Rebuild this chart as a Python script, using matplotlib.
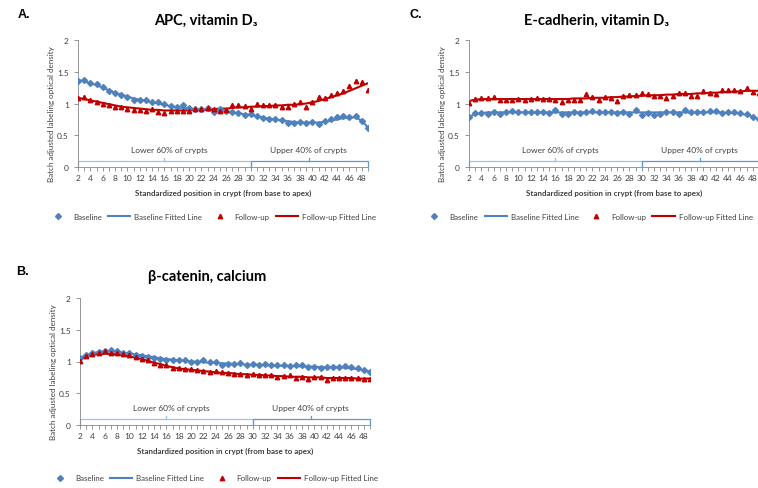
import matplotlib
matplotlib.use("Agg")
import matplotlib.pyplot as plt
from matplotlib.lines import Line2D

plt.rcParams["font.family"] = ["Lato", "DejaVu Sans"]

positions = list(range(2, 50))
tick_labels = [str(p) if p % 2 == 0 else "" for p in positions]

# A. APC, vitamin D3
apc_base = [1.36, 1.37, 1.33, 1.31, 1.26, 1.20, 1.16, 1.13, 1.10, 1.06, 1.05, 1.06,
            1.03, 1.02, 0.99, 0.96, 0.95, 0.97, 0.93, 0.92, 0.91, 0.93, 0.86, 0.92,
            0.88, 0.87, 0.85, 0.82, 0.83, 0.81, 0.77, 0.75, 0.76, 0.74, 0.70, 0.70,
            0.71, 0.70, 0.71, 0.68, 0.72, 0.75, 0.78, 0.80, 0.79, 0.81, 0.73, 0.61]
apc_base_fit = [1.37, 1.35, 1.32, 1.29, 1.25, 1.21, 1.17, 1.14, 1.11, 1.08, 1.06, 1.04,
                1.02, 1.00, 0.98, 0.96, 0.94, 0.93, 0.92, 0.91, 0.90, 0.89, 0.89, 0.88,
                0.87, 0.86, 0.85, 0.83, 0.82, 0.80, 0.78, 0.76, 0.75, 0.73, 0.72, 0.71,
                0.70, 0.70, 0.70, 0.70, 0.71, 0.73, 0.75, 0.77, 0.78, 0.78, 0.73, 0.62]
apc_follow = [1.09, 1.10, 1.05, 1.02, 1.00, 0.97, 0.95, 0.94, 0.91, 0.90, 0.89, 0.88,
              0.91, 0.87, 0.85, 0.88, 0.88, 0.88, 0.88, 0.91, 0.92, 0.93, 0.92, 0.88,
              0.89, 0.97, 0.97, 0.96, 0.91, 0.99, 0.97, 0.98, 0.98, 0.95, 0.95, 0.99,
              1.02, 0.95, 1.02, 1.11, 1.09, 1.13, 1.17, 1.19, 1.27, 1.35, 1.34, 1.22]
apc_follow_fit = [1.09, 1.07, 1.05, 1.03, 1.01, 0.99, 0.97, 0.95, 0.94, 0.93, 0.92, 0.91,
                  0.90, 0.90, 0.89, 0.89, 0.89, 0.89, 0.89, 0.90, 0.90, 0.91, 0.91, 0.92,
                  0.92, 0.93, 0.94, 0.94, 0.95, 0.95, 0.96, 0.96, 0.97, 0.97, 0.98, 0.98,
                  0.99, 1.00, 1.02, 1.04, 1.07, 1.10, 1.13, 1.16, 1.20, 1.24, 1.28, 1.32]

# C. E-cadherin, vitamin D3
ecad_base = [0.78, 0.85, 0.85, 0.84, 0.87, 0.84, 0.86, 0.88, 0.87, 0.87, 0.87, 0.86,
             0.87, 0.85, 0.89, 0.83, 0.84, 0.86, 0.85, 0.86, 0.88, 0.87, 0.86, 0.86,
             0.85, 0.87, 0.84, 0.89, 0.82, 0.85, 0.82, 0.83, 0.87, 0.87, 0.84, 0.89,
             0.86, 0.86, 0.87, 0.88, 0.88, 0.85, 0.87, 0.86, 0.85, 0.83, 0.78, 0.75]
ecad_base_fit = [0.79, 0.83, 0.85, 0.86, 0.86, 0.86, 0.86, 0.86, 0.86, 0.86, 0.86, 0.86,
                 0.86, 0.86, 0.86, 0.86, 0.86, 0.86, 0.86, 0.86, 0.86, 0.86, 0.86, 0.86,
                 0.86, 0.86, 0.86, 0.86, 0.86, 0.86, 0.86, 0.86, 0.86, 0.86, 0.86, 0.86,
                 0.86, 0.86, 0.86, 0.86, 0.86, 0.86, 0.85, 0.85, 0.84, 0.82, 0.79, 0.75]
ecad_follow = [1.01, 1.07, 1.08, 1.08, 1.10, 1.06, 1.06, 1.06, 1.07, 1.06, 1.07, 1.08,
               1.07, 1.07, 1.06, 1.03, 1.06, 1.06, 1.06, 1.15, 1.11, 1.06, 1.11, 1.09,
               1.04, 1.12, 1.13, 1.13, 1.16, 1.15, 1.12, 1.12, 1.08, 1.12, 1.17, 1.16,
               1.12, 1.12, 1.19, 1.16, 1.15, 1.22, 1.22, 1.22, 1.20, 1.24, 1.18, 1.17]
ecad_follow_fit = [1.04, 1.06, 1.07, 1.07, 1.07, 1.07, 1.07, 1.07, 1.07, 1.07, 1.07, 1.07,
                   1.07, 1.07, 1.07, 1.07, 1.07, 1.08, 1.08, 1.08, 1.09, 1.09, 1.09, 1.10,
                   1.10, 1.11, 1.11, 1.12, 1.12, 1.13, 1.13, 1.13, 1.14, 1.14, 1.15, 1.15,
                   1.15, 1.16, 1.16, 1.17, 1.17, 1.18, 1.18, 1.19, 1.19, 1.20, 1.20, 1.20]

# B. beta-catenin, calcium
bcat_base = [1.05, 1.10, 1.13, 1.15, 1.16, 1.18, 1.17, 1.14, 1.13, 1.11, 1.09, 1.07,
             1.06, 1.04, 1.03, 1.03, 1.03, 1.02, 1.00, 0.99, 1.02, 1.00, 0.99, 0.94,
             0.96, 0.96, 0.98, 0.95, 0.96, 0.95, 0.96, 0.94, 0.94, 0.94, 0.93, 0.94,
             0.94, 0.91, 0.92, 0.90, 0.92, 0.92, 0.91, 0.93, 0.91, 0.90, 0.86, 0.84]
bcat_base_fit = [1.06, 1.10, 1.13, 1.15, 1.16, 1.16, 1.15, 1.14, 1.13, 1.11, 1.10, 1.08,
                 1.07, 1.05, 1.04, 1.03, 1.02, 1.01, 1.00, 1.00, 0.99, 0.98, 0.98, 0.97,
                 0.97, 0.96, 0.96, 0.95, 0.95, 0.95, 0.94, 0.94, 0.94, 0.93, 0.93, 0.93,
                 0.92, 0.92, 0.92, 0.91, 0.91, 0.91, 0.91, 0.90, 0.89, 0.88, 0.86, 0.84]
bcat_follow = [1.01, 1.08, 1.12, 1.14, 1.16, 1.14, 1.13, 1.12, 1.10, 1.07, 1.04, 1.02,
               0.98, 0.95, 0.94, 0.90, 0.89, 0.88, 0.88, 0.86, 0.85, 0.84, 0.85, 0.83,
               0.82, 0.80, 0.80, 0.78, 0.81, 0.79, 0.79, 0.78, 0.76, 0.77, 0.79, 0.74,
               0.76, 0.73, 0.75, 0.75, 0.71, 0.74, 0.74, 0.74, 0.74, 0.74, 0.73, 0.73]
bcat_follow_fit = [1.03, 1.07, 1.10, 1.12, 1.12, 1.12, 1.11, 1.10, 1.08, 1.06, 1.04, 1.01,
                   0.98, 0.96, 0.93, 0.91, 0.89, 0.88, 0.87, 0.86, 0.85, 0.84, 0.83, 0.82,
                   0.82, 0.81, 0.80, 0.80, 0.79, 0.79, 0.78, 0.78, 0.77, 0.77, 0.76, 0.76,
                   0.76, 0.75, 0.75, 0.75, 0.74, 0.74, 0.74, 0.74, 0.74, 0.73, 0.73, 0.73]

blue = "#4F81BD"
red = "#C00000"
gray = "#868686"
text_col = "#404040"


def panel(rect, titulo, base, base_fit, follow, follow_fit, tit_y, leg_x, leg_y):
    ax = fig.add_axes(rect)
    ax.plot(positions, base_fit, color=blue, lw=1.5, zorder=2)
    ax.plot(positions, follow_fit, color=red, lw=1.5, zorder=2)
    ax.plot(positions, base, ls="none", marker="D", ms=3.0, color=blue, zorder=3)
    ax.plot(positions, follow, ls="none", marker="^", ms=3.2, color=red, zorder=3)

    # brackets for lower 60% / upper 40%
    ax.plot([2, 2, 30, 30], [0.01, 0.095, 0.095, 0.01], color="#9DC3E6", lw=0.9, clip_on=False)
    ax.plot([16, 16], [0.095, 0.145], color="#9DC3E6", lw=0.9)
    ax.plot([30, 30, 49, 49], [0.01, 0.095, 0.095, 0.01], color="#5B9BD5", lw=0.9, clip_on=False)
    ax.plot([39.5, 39.5], [0.095, 0.145], color="#5B9BD5", lw=0.9)
    ax.text(16.8, 0.28, "Lower 60% of crypts", fontsize=6, color=text_col, ha="center", va="center")
    ax.text(39.4, 0.28, "Upper 40% of crypts", fontsize=6, color=text_col, ha="center", va="center")

    ax.set_xlim(2, 49)
    ax.set_ylim(0, 2)
    ax.set_yticks([0, 0.5, 1, 1.5, 2])
    ax.set_yticklabels(["0", "0.5", "1", "1.5", "2"])
    ax.set_xticks(positions)
    ax.set_xticklabels(tick_labels)
    ax.tick_params(axis="both", colors=gray, labelcolor=text_col, labelsize=6, length=3, width=0.6)
    ax.tick_params(axis="x", pad=2)
    for s in ["top", "right"]:
        ax.spines[s].set_visible(False)
    for s in ["left", "bottom"]:
        ax.spines[s].set_color(gray)
        ax.spines[s].set_linewidth(0.6)

    ax.text(0.44, tit_y, titulo, transform=ax.transAxes, fontsize=10.5, fontweight="bold",
            ha="center", va="center", color="black")
    ax.text(0.5, -0.197, "Standardized position in crypt (from base to apex)", transform=ax.transAxes,
            fontsize=5.8, fontweight="bold", ha="center", va="center", color=text_col)
    ax.text(-0.09, 0.425, "Batch adjusted labeling optical density", transform=ax.transAxes,
            fontsize=5.8, rotation=90, ha="center", va="center", color=text_col)

    handles = [
        Line2D([], [], ls="none", marker="D", ms=3.0, color=blue),
        Line2D([], [], color=blue, lw=1.5),
        Line2D([], [], ls="none", marker="^", ms=3.2, color=red),
        Line2D([], [], color=red, lw=1.5),
    ]
    nomes = ["Baseline", "Baseline Fitted Line", "Follow-up", "Follow-up Fitted Line"]
    leg = ax.legend(handles, nomes, loc="center", bbox_to_anchor=(leg_x, leg_y), ncol=4,
                    frameon=False, fontsize=5.7, handlelength=2.8, columnspacing=0.8,
                    handletextpad=0.5, borderpad=0.1, borderaxespad=0)
    for t in leg.get_texts():
        t.set_color(text_col)
    return ax


fig = plt.figure(figsize=(7.58, 4.89), dpi=100)

panel([78 / 758, 1 - 168 / 489, 290 / 758, 127 / 489], "APC, vitamin D\u2083",
      apc_base, apc_base_fit, apc_follow, apc_follow_fit, 1.157, 0.46, -0.386)
panel([469 / 758, 1 - 168 / 489, 290 / 758, 127 / 489], "E-cadherin, vitamin D\u2083",
      ecad_base, ecad_base_fit, ecad_follow, ecad_follow_fit, 1.157, 0.41, -0.386)
panel([80 / 758, 1 - 426 / 489, 290 / 758, 127 / 489], "\u03b2-catenin, calcium",
      bcat_base, bcat_base_fit, bcat_follow, bcat_follow_fit, 1.176, 0.46, -0.417)

letra = dict(fontsize=9, fontweight="bold", family=["Liberation Sans", "DejaVu Sans"], va="center")
fig.text(18 / 758, 1 - 15 / 489, "A.", **letra)
fig.text(410 / 758, 1 - 15 / 489, "C.", **letra)
fig.text(16 / 758, 1 - 272 / 489, "B.", **letra)

fig.savefig("out.png", dpi=100)
